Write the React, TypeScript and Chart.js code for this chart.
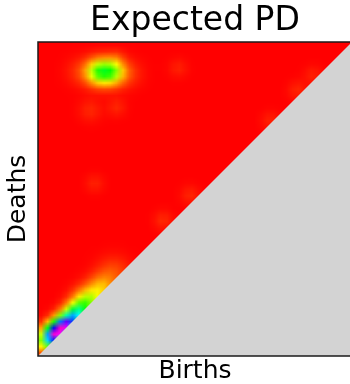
import React, { useEffect, useRef } from "react";
import { Chart, registerables } from "chart.js";

Chart.register(...registerables);

const TITLE = "Expected PD";
const X_LABEL = "Births";
const Y_LABEL = "Deaths";
const GRID_SIZE = 50;

// Persistence points (birth, death) in the unit square, with weight and spread
const births = [0.05, 0.085, 0.02, 0.12, 0.155, 0.2, 0.24, 0.19, 0.235, 0.29, 0.13, 0.25, 0.446, 0.166, 0.25, 0.18, 0.484, 0.398, 0.74, 0.825, 0.876];
const deaths = [0.066, 0.095, 0.04, 0.13, 0.17, 0.215, 0.265, 0.905, 0.905, 0.9, 0.905, 0.952, 0.917, 0.783, 0.793, 0.55, 0.513, 0.433, 0.75, 0.847, 0.895];
const weights = [1.0, 0.95, 0.22, 0.6, 0.35, 0.18, 0.08, 0.36, 0.36, 0.05, 0.045, 0.035, 0.035, 0.04, 0.04, 0.035, 0.04, 0.045, 0.035, 0.04, 0.035];
const spreads = [0.024, 0.024, 0.02, 0.025, 0.03, 0.03, 0.035, 0.028, 0.028, 0.03, 0.03, 0.015, 0.02, 0.025, 0.02, 0.02, 0.02, 0.02, 0.02, 0.02, 0.02];

// gist_rainbow-like colour stops
const cmapPos = [0.0, 0.215, 0.4, 0.586, 0.77, 0.954, 1.0];
const cmapRGB: number[][] = [
  [255, 0, 0],
  [255, 255, 0],
  [0, 255, 0],
  [0, 255, 255],
  [0, 0, 255],
  [255, 0, 255],
  [255, 0, 191],
];

function cmap(t: number): number[] {
  const v = Math.max(0, Math.min(1, t));
  for (let i = 1; i < cmapPos.length; i++) {
    if (v <= cmapPos[i]) {
      const f = (v - cmapPos[i - 1]) / (cmapPos[i] - cmapPos[i - 1]);
      const a = cmapRGB[i - 1];
      const b = cmapRGB[i];
      return [a[0] + (b[0] - a[0]) * f, a[1] + (b[1] - a[1]) * f, a[2] + (b[2] - a[2]) * f];
    }
  }
  return cmapRGB[cmapRGB.length - 1];
}

function buildGrid(): number[][] {
  const grid: number[][] = [];
  for (let j = 0; j < GRID_SIZE; j++) {
    const row: number[] = [];
    const y = 1 - (j + 0.5) / GRID_SIZE;
    for (let i = 0; i < GRID_SIZE; i++) {
      const x = (i + 0.5) / GRID_SIZE;
      let s = 0;
      for (let k = 0; k < births.length; k++) {
        const dx = x - births[k];
        const dy = y - deaths[k];
        s += weights[k] * Math.exp(-(dx * dx + dy * dy) / (2 * spreads[k] * spreads[k]));
      }
      row.push(s);
    }
    grid.push(row);
  }
  return grid;
}

const heatmapPlugin = {
  id: "pdHeatmap",
  beforeDatasetsDraw(chart: any) {
    const { ctx } = chart;
    const xs = chart.scales.x;
    const ys = chart.scales.y;
    const grid = buildGrid();
    let vmax = 0;
    grid.forEach((r) => r.forEach((v) => (vmax = Math.max(vmax, v))));
    const off = document.createElement("canvas");
    off.width = GRID_SIZE;
    off.height = GRID_SIZE;
    const octx = off.getContext("2d")!;
    const img = octx.createImageData(GRID_SIZE, GRID_SIZE);
    for (let j = 0; j < GRID_SIZE; j++) {
      for (let i = 0; i < GRID_SIZE; i++) {
        const c = cmap(grid[j][i] / vmax);
        const p = (j * GRID_SIZE + i) * 4;
        img.data[p] = c[0];
        img.data[p + 1] = c[1];
        img.data[p + 2] = c[2];
        img.data[p + 3] = 255;
      }
    }
    octx.putImageData(img, 0, 0);
    const x0 = xs.getPixelForValue(0);
    const x1 = xs.getPixelForValue(1);
    const y0 = ys.getPixelForValue(0);
    const y1 = ys.getPixelForValue(1);
    ctx.save();
    ctx.imageSmoothingEnabled = true;
    ctx.drawImage(off, x0, y1, x1 - x0, y0 - y1);
    // masked region below the diagonal
    ctx.fillStyle = "#d3d3d3";
    ctx.beginPath();
    ctx.moveTo(x0, y0);
    ctx.lineTo(x1, y0);
    ctx.lineTo(x1, y1);
    ctx.closePath();
    ctx.fill();
    ctx.restore();
  },
  afterDraw(chart: any) {
    const { ctx, chartArea } = chart;
    ctx.save();
    ctx.strokeStyle = "#1a1a1a";
    ctx.lineWidth = 1.5;
    ctx.strokeRect(chartArea.left, chartArea.top, chartArea.right - chartArea.left, chartArea.bottom - chartArea.top);
    ctx.restore();
  },
};

export default function App() {
  const ref = useRef<HTMLCanvasElement | null>(null);
  useEffect(() => {
    if (!ref.current) return;
    const font = "'DejaVu Sans', sans-serif";
    const chart = new Chart(ref.current, {
      type: "scatter",
      data: { datasets: [{ data: [] }] },
      options: {
        animation: false,
        responsive: false,
        maintainAspectRatio: false,
        layout: { padding: 0 },
        plugins: {
          legend: { display: false },
          tooltip: { enabled: false },
          title: {
            display: true,
            text: TITLE,
            fullSize: false,
            color: "#000",
            font: { family: font, size: 33, weight: "normal" },
            padding: { top: 1.5, bottom: 0.9 },
          },
        },
        scales: {
          x: {
            type: "linear",
            min: 0,
            max: 1,
            grid: { display: false, drawTicks: false },
            border: { display: false },
            ticks: { display: false },
            title: { display: true, text: X_LABEL, color: "#000", font: { family: font, size: 25 }, padding: { top: 0, bottom: -2 } },
            afterFit: (s: any) => {
              s.height = 28;
            },
          },
          y: {
            type: "linear",
            min: 0,
            max: 1,
            grid: { display: false, drawTicks: false },
            border: { display: false },
            ticks: { display: false },
            title: { display: true, text: Y_LABEL, color: "#000", font: { family: font, size: 25 }, padding: { top: 3, bottom: 0 } },
            afterFit: (s: any) => {
              s.width = 38;
            },
          },
        },
      } as any,
      plugins: [heatmapPlugin],
    });
    return () => chart.destroy();
  }, []);
  return (
    <div style={{ position: "fixed", left: 0, top: 0, width: 350, height: 384, overflow: "hidden", background: "#fff" }}>
      <canvas ref={ref} width={352} height={384} style={{ width: 352, height: 384, display: "block" }} />
    </div>
  );
}
